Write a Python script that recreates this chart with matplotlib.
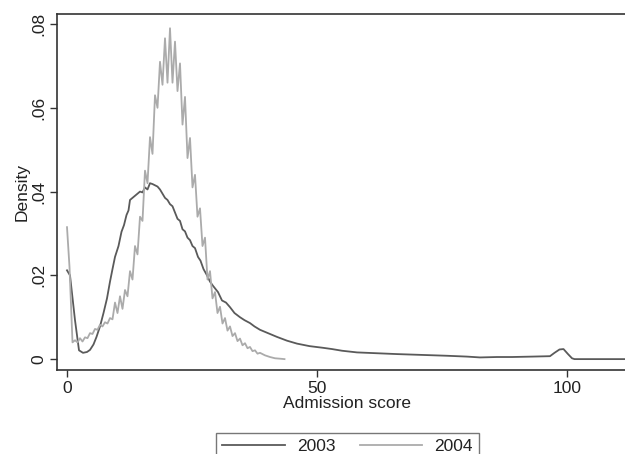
import matplotlib.pyplot as plt

plt.rcParams['font.family'] = ['Liberation Sans', 'DejaVu Sans']

# admission score density
x2003 = [0, 0.6, 1.6, 2.4, 3.2, 4.0, 4.6, 5.3, 5.9, 6.6, 7.3, 8.0, 8.6, 9.1, 9.6,
         10.3, 10.9, 11.4, 11.9, 12.3, 12.6, 13.1, 13.6, 14.1, 14.6, 15.1, 15.6,
         16.1, 16.6, 17.1, 17.6, 18.1, 18.6, 19.1, 19.6, 20.1, 20.6, 21.1, 21.6,
         22.1, 22.6, 23.1, 23.6, 24.1, 24.6, 25.1, 25.6, 26.2, 26.7, 27.3, 28.0,
         28.6, 29.2, 30.2, 31.0, 31.8, 32.6, 33.5, 34.6, 35.5, 36.6, 37.5, 38.6,
         40.2, 42, 44, 46, 48.5, 51.2, 53, 55, 58, 62, 66, 71, 76, 80, 82.6, 86, 89,
         93, 96.6, 97.5, 98.5, 99.3, 100.2, 101, 101.5, 114]
y2003 = [0.0212, 0.020, 0.0093, 0.0021, 0.0015, 0.0017, 0.0022, 0.0035, 0.0053,
         0.0078, 0.011, 0.0145, 0.0185, 0.0215, 0.0244, 0.027, 0.0304, 0.032,
         0.0344, 0.0355, 0.038, 0.0385, 0.039, 0.0395, 0.040, 0.0398, 0.041,
         0.0405, 0.042, 0.0418, 0.0415, 0.0412, 0.0405, 0.0395, 0.0385, 0.038,
         0.037, 0.0365, 0.035, 0.0335, 0.033, 0.031, 0.0305, 0.029, 0.0284, 0.027,
         0.0265, 0.0244, 0.0235, 0.0215, 0.020, 0.0185, 0.0175, 0.016, 0.014,
         0.0135, 0.0124, 0.011, 0.010, 0.0093, 0.0086, 0.0078, 0.007, 0.0062,
         0.0053, 0.0044, 0.0037, 0.0031, 0.0027, 0.0024, 0.0020, 0.0016, 0.0014,
         0.0012, 0.0010, 0.0008, 0.0006, 0.0004, 0.0005, 0.0005, 0.0006, 0.0007,
         0.0015, 0.0023, 0.0024, 0.0012, 0.0002, 0.0, 0.0]

x2004 = [0.0, 0.5, 1.1, 1.6, 2.1, 2.6, 3.1, 3.6, 4.1, 4.6, 5.1, 5.6, 6.1, 6.6,
         7.1, 7.6, 8.1, 8.6, 9.1, 9.6, 10.1, 10.6, 11.1, 11.6, 12.1, 12.6, 13.1,
         13.6, 14.1, 14.6, 15.1, 15.6, 16.1, 16.6, 17.1, 17.6, 18.1, 18.6, 19.1,
         19.6, 20.1, 20.6, 21.1, 21.6, 22.1, 22.6, 23.1, 23.6, 24.1, 24.6, 25.1,
         25.6, 26.1, 26.6, 27.1, 27.6, 28.1, 28.6, 29.1, 29.6, 30.1, 30.6, 31.1,
         31.6, 32.1, 32.6, 33.1, 33.6, 34.1, 34.6, 35.1, 35.6, 36.1, 36.6, 37.1,
         37.6, 38.1, 38.6, 39.6, 40.6, 41.6, 42.6, 43.5]
y2004 = [0.0315, 0.022, 0.004, 0.0045, 0.004, 0.005, 0.0042, 0.0052, 0.005,
         0.0062, 0.006, 0.0072, 0.007, 0.0082, 0.0078, 0.0088, 0.0085, 0.0098,
         0.0095, 0.0135, 0.011, 0.015, 0.012, 0.0165, 0.015, 0.021, 0.019, 0.027,
         0.025, 0.034, 0.033, 0.045, 0.042, 0.053, 0.049, 0.063, 0.060, 0.071,
         0.0655, 0.0766, 0.066, 0.079, 0.066, 0.0758, 0.064, 0.0706, 0.056,
         0.0626, 0.048, 0.0528, 0.041, 0.044, 0.034, 0.036, 0.027, 0.029, 0.019,
         0.021, 0.0145, 0.016, 0.011, 0.0125, 0.0085, 0.0098, 0.0068, 0.0078,
         0.0055, 0.0062, 0.0043, 0.0049, 0.0033, 0.0038, 0.0026, 0.0029, 0.0019,
         0.0021, 0.0013, 0.0015, 0.0009, 0.0005, 0.0002, 0.0001, 0.0]

xticks = [0, 50, 100]
yticks = [0, 0.02, 0.04, 0.06, 0.08]
ylabels = ['0', '.02', '.04', '.06', '.08']

fig = plt.figure(figsize=(6.25, 4.54), dpi=100)
# plot region runs a little past the right edge of the picture
ax = fig.add_axes([57 / 625, 1 - 370 / 454, 580 / 625, 356 / 454])

ax.plot(x2003, y2003, color='#5a5a5a', linewidth=1.3, label='2003')
ax.plot(x2004, y2004, color='#ababab', linewidth=1.3, label='2004')

ax.set_xlim(-2, 114)
ax.set_ylim(-0.0026, 0.0824)
ax.set_xticks(xticks)
ax.set_yticks(yticks)
ax.set_yticklabels(ylabels, rotation=90, va='center')
ax.tick_params(axis='both', direction='out', length=5, width=1, color='#333333',
               labelsize=12.5, labelcolor='#222222', pad=3)
for s in ['left', 'bottom', 'top']:
    ax.spines[s].set_color('#333333')
    ax.spines[s].set_linewidth(1.2)
ax.spines['right'].set_visible(False)

ax.set_xlabel('Admission score', fontsize=12.5, labelpad=0, color='#222222')
ax.set_ylabel('Density', fontsize=12.5, labelpad=1, color='#222222')

leg = fig.legend(loc='upper center', bbox_to_anchor=(347.5 / 625, 1 - 424 / 454),
                 ncol=2, fontsize=12.5, frameon=True, fancybox=False,
                 handlelength=3.6, handletextpad=0.7, columnspacing=1.4,
                 borderpad=0.35)
for t in leg.get_texts():
    t.set_color('#222222')
leg.get_frame().set_edgecolor('#555555')
leg.get_frame().set_linewidth(1)

plt.savefig('out.png', dpi=100)
